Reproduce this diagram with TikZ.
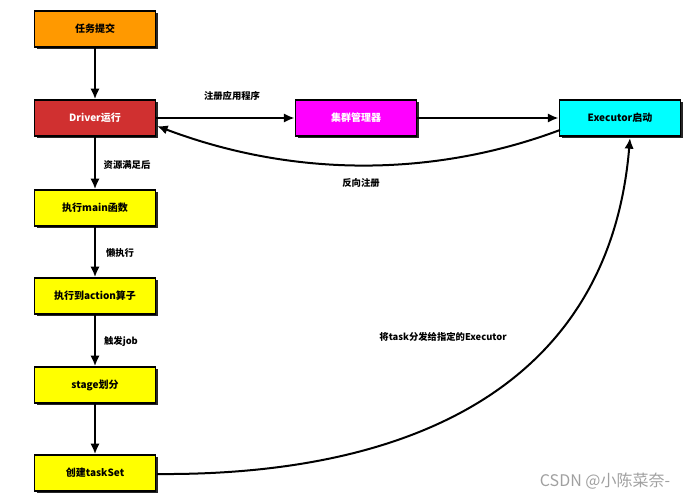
\documentclass[tikz,border=0pt]{standalone}
\usepackage{fontspec}
\setmainfont{Noto Sans CJK SC}
\usetikzlibrary{shadows,arrows.meta}
\definecolor{cOrange}{HTML}{FF9900}
\definecolor{cRed}{HTML}{D03030}
\definecolor{cMag}{HTML}{FF00FF}
\definecolor{cCyan}{HTML}{00FFFF}
\definecolor{cYel}{HTML}{FFFF00}
\definecolor{cWm}{HTML}{A0A0A0}
\begin{document}
\begin{tikzpicture}[x=0.75pt,y=-0.75pt,
  box/.style={draw=black, line width=1.2pt, minimum width=91pt, minimum height=27pt,
    inner sep=0pt, font=\fontsize{7.5}{9}\selectfont\bfseries,
    drop shadow={shadow xshift=1.8pt, shadow yshift=-1.8pt, fill=black!85, opacity=1}},
  conn/.style={line width=1.5pt, -{Latex[length=8pt,width=7pt]}},
  lbl/.style={font=\fontsize{7}{8}\selectfont\bfseries, inner sep=1pt}]
\useasboundingbox (0,0) rectangle (699,500);
\node[box, fill=cOrange] (submit) at (95,29) {任务提交};
\node[box, fill=cRed, text=white] (driver) at (95,118) {Driver运行};
\node[box, fill=cMag, text=white] (cm) at (356,118) {集群管理器};
\node[box, fill=cCyan] (exec) at (620,118) {Executor启动};
\node[box, fill=cYel] (main) at (95,208) {执行main函数};
\node[box, fill=cYel] (action) at (95,296) {执行到action算子};
\node[box, fill=cYel] (stage) at (95,385) {stage划分};
\node[box, fill=cYel] (taskset) at (95,473) {创建taskSet};

\draw[conn] (submit) -- (driver);
\draw[conn] (driver) -- (main);
\draw[conn] (main) -- (action);
\draw[conn] (action) -- (stage);
\draw[conn] (stage) -- (taskset);
\draw[conn] (driver) -- (cm);
\draw[conn] (cm) -- (exec);
\coordinate (exl) at (560,130);
\coordinate (drr) at (157,126);
\draw[conn] (exl) .. controls (440,175) and (300,180) .. (drr);
\coordinate (tsr) at (157,474);
\coordinate (exb) at (630,138);
\draw[conn] (tsr) .. controls (420,476) and (610,380) .. (exb);

\node[lbl] (l1) at (232,96) {注册应用程序};
\node[lbl] (l2) at (127,165) {资源满足后};
\node[lbl] (l3) at (361,183) {反向注册};
\node[lbl] (l4) at (120,253) {懒执行};
\node[lbl] (l5) at (121,341) {触发job};
\node[lbl] (l6) at (443,337) {将task分发给指定的Executor};
\node[font=\fontsize{12}{14}\selectfont, text=cWm, inner sep=0pt] (wm) at (605,481) {CSDN @小陈菜奈-};
\end{tikzpicture}
\end{document}
